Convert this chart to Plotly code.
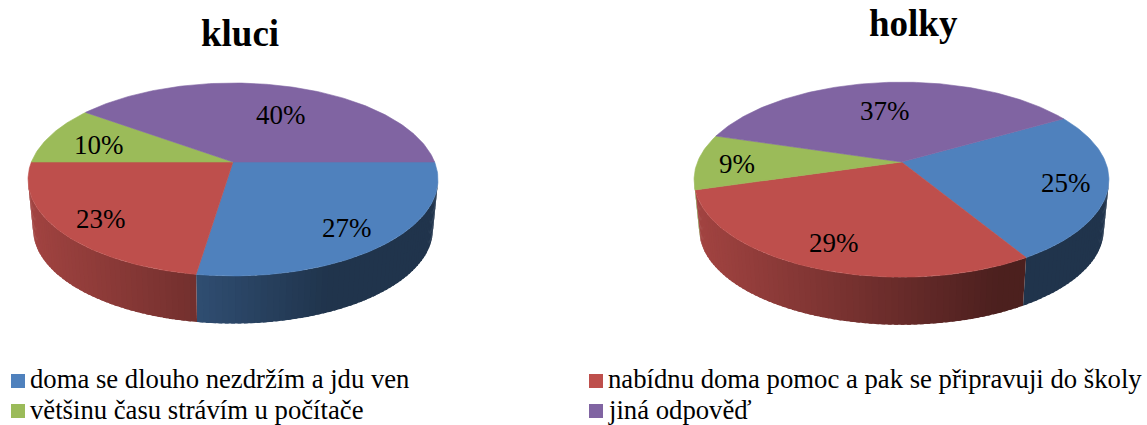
import math
import plotly.graph_objects as go

CATEGORIES = ["doma se dlouho nezdržím a jdu ven",
              "nabídnu doma pomoc a pak se připravuji do školy",
              "většinu času strávím u počítače",
              "jiná odpověď"]
KLUCI = [27.4, 22.6, 10, 40]
HOLKY = [24.7, 29.1, 9.2, 37]
COLORS = ["#4F81BD", "#BE4F4C", "#9BBB59", "#8064A2"]

SERIF = "Liberation Serif"
C = -0.181            # perspective factor of the tilted disc
DEPTH_SCALE = 0.975   # lower rim is slightly smaller


def project(cx, cy, rx, ry, deg):
    t = math.radians(deg)
    d = 1 + C * math.sin(t)
    return cx + rx * math.cos(t) / d, cy + ry * math.sin(t) / d


def shade(hex_color, f):
    r, g, b = (int(hex_color[i:i + 2], 16) for i in (1, 3, 5))
    return f"rgb({round(r * f)},{round(g * f)},{round(b * f)})"


def poly(fig, xs, ys, color, edge=0.6):
    fig.add_trace(go.Scatter(x=xs, y=ys, mode="lines" if edge else "none", fill="toself",
                             fillcolor=color, line=dict(color=color, width=edge),
                             hoverinfo="skip", showlegend=False))


def draw_pie(fig, values, start, cx, cy, rx, ry, depth):
    total = sum(values)
    sil = math.degrees(math.asin(-C))
    bx, by = rx * DEPTH_SCALE, ry * DEPTH_SCALE
    # side wall, split into thin overlapping strips that darken to the right
    a = start
    for val, col in zip(values, COLORS):
        b = a + val / total * 360
        for shift in (-360, 0, 360):
            lo = max(a + shift, sil)
            hi = min(b + shift, 180 - sil)
            if hi <= lo:
                continue
            n = max(1, int((hi - lo) / 1.5))
            for i in range(n):
                t0 = lo + (hi - lo) * i / n
                t1 = min(hi, lo + (hi - lo) * (i + 1.6) / n)
                x0, y0 = project(cx, cy, rx, ry, t0)
                x1, y1 = project(cx, cy, rx, ry, t1)
                x2, y2 = project(cx, cy + depth, bx, by, t1)
                x3, y3 = project(cx, cy + depth, bx, by, t0)
                dx = (x0 + x1) / 2 - cx
                f = max(0.4, 0.6 - 0.0015 * (dx + 38))
                poly(fig, [x0, x1, x2, x3, x0], [y0, y1, y2, y3, y0], shade(col, f), edge=0)
        a = b
    # top face
    a = start
    for val, col in zip(values, COLORS):
        b = a + val / total * 360
        n = max(2, int(b - a))
        pts = [project(cx, cy, rx, ry, a + (b - a) * i / n) for i in range(n + 1)]
        xs = [cx] + [p[0] for p in pts] + [cx]
        ys = [cy] + [p[1] for p in pts] + [cy]
        poly(fig, xs, ys, col)
        a = b


fig = go.Figure()
draw_pie(fig, KLUCI, 0, 233, 162, 201.6, 93.3, 50.5)
draw_pie(fig, HOLKY, -30, 901.5, 162, 204, 94.3, 50.5)

annotations = []


def text(x, y, s, size, anchor="center", bold=False):
    annotations.append(dict(x=x, y=y, xref="x", yref="y", text=f"<b>{s}</b>" if bold else s,
                            showarrow=False, xanchor=anchor, yanchor="middle", borderpad=0,
                            font=dict(family=SERIF, size=size, color="black")))


text(239.5, 33, "kluci", 37, bold=True)
text(913, 23, "holky", 37, bold=True)

KLUCI_LABEL_POS = [(347, 228), (101, 219), (99, 145), (281, 115)]
HOLKY_LABEL_POS = [(1066, 183), (834, 243), (737, 164), (885, 111)]
for vals, posn in ((KLUCI, KLUCI_LABEL_POS), (HOLKY, HOLKY_LABEL_POS)):
    for v, (x, y) in zip(vals, posn):
        text(x, y, f"{v:.0f}%", 27)

LEGEND_POS = [(18, 381), (596, 381), (18, 411), (596, 411)]
LEGEND_TEXT_Y = [379, 379, 409.5, 409.5]
for cat, col, (x, y), ty in zip(CATEGORIES, COLORS, LEGEND_POS, LEGEND_TEXT_Y):
    fig.add_trace(go.Scatter(x=[x], y=[y], mode="markers", hoverinfo="skip", showlegend=False,
                             marker=dict(symbol="square", size=14, color=col)))
    text(x + 11, ty, cat, 26.7, anchor="left")

fig.update_layout(width=1147, height=425, margin=dict(l=0, r=0, t=0, b=0),
                  paper_bgcolor="white", plot_bgcolor="white", showlegend=False,
                  annotations=annotations,
                  xaxis=dict(range=[0, 1147], visible=False, fixedrange=True),
                  yaxis=dict(range=[425, 0], visible=False, fixedrange=True))
fig.write_html("out.html", config={"displayModeBar": False},
               post_script="document.body.style.margin='0';document.documentElement.style.overflow='hidden';")
